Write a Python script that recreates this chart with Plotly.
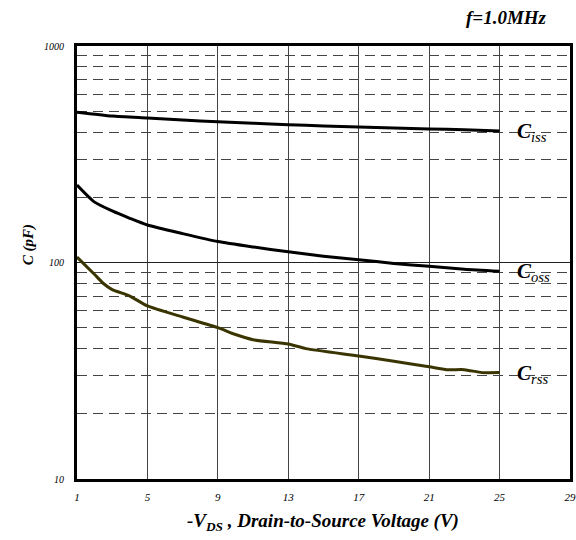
import plotly.graph_objects as go
import math

# Data
vds_iss = [1, 3, 5, 7, 9, 11, 13, 15, 17, 19, 21, 23, 25]
c_iss = [495, 475, 465, 455, 447, 440, 433, 427, 422, 418, 414, 410, 405]

vds_oss = [1, 2, 3, 4, 5, 7, 9, 11, 13, 15, 17, 19, 21, 23, 25]
c_oss = [228, 190, 173, 160, 149, 136, 125, 118, 112, 107, 103, 99, 96, 93, 91]

vds_rss = [1, 2, 2.5, 3, 4, 5, 7, 9, 10, 11, 13, 14, 17, 19, 21, 22, 23, 24, 25]
c_rss = [106, 88, 80, 75, 70, 63, 56, 50, 46.5, 44, 42, 40, 37, 35, 33, 32, 32, 31, 31]

x_ticks = [1, 5, 9, 13, 17, 21, 25, 29]
y_ticks = [10, 100, 1000]
y_minor = [20, 30, 40, 50, 60, 70, 80, 90, 200, 300, 400, 500, 600, 700, 800, 900]

series = [
    ("C", "iss", vds_iss, c_iss, "black"),
    ("C", "oss", vds_oss, c_oss, "black"),
    ("C", "rss", vds_rss, c_rss, "#3a3500"),
]

SERIF = "Liberation Serif"

fig = go.Figure()
for main, sub, xs, ys, col in series:
    fig.add_trace(go.Scatter(x=xs, y=ys, mode="lines",
                             line=dict(color=col, width=3, shape="spline", smoothing=0.6),
                             showlegend=False, hoverinfo="skip"))
    fig.add_annotation(x=25.85, y=math.log10(ys[-1]), xref="x", yref="y",
                       xanchor="left", yanchor="middle", showarrow=False, yshift=-1,
                       text=f"<b><i>{main}</i></b><sub><i>{sub}</i></sub>",
                       font=dict(family=SERIF, size=21, color="black"))

fig.add_annotation(x=0.957, y=1.065, xref="paper", yref="paper", xanchor="right", yanchor="middle",
                   showarrow=False, text="<b><i>f=1.0MHz</i></b>",
                   font=dict(family=SERIF, size=19, color="black"))

fig.add_annotation(x=0.499, y=-0.099, xref="paper", yref="paper", xanchor="center", yanchor="middle",
                   showarrow=False,
                   text="<b><i>-V</i></b><sub><b><i>DS</i></b></sub><b><i> , Drain-to-Source Voltage (V)</i></b>",
                   font=dict(family=SERIF, size=19, color="black"))

fig.add_annotation(x=-0.099, y=0.54, xref="paper", yref="paper", xanchor="center", yanchor="middle",
                   showarrow=False, textangle=-90, text="<b><i>C (pF)</i></b>",
                   font=dict(family=SERIF, size=15, color="black"))

fig.update_xaxes(range=[1, 29], tickvals=x_ticks, ticktext=[str(v) for v in x_ticks],
                 showgrid=True, gridcolor="#444444", gridwidth=1,
                 showline=True, mirror=True, linecolor="black", linewidth=3,
                 ticks="", ticklabelstandoff=6,
                 tickfont=dict(family=SERIF, size=11, style="italic", color="black"),
                 zeroline=False)

fig.update_yaxes(type="log", range=[1, 3], tickvals=y_ticks, ticktext=[str(v) for v in y_ticks],
                 showgrid=True, gridcolor="#222222", gridwidth=1,
                 minor=dict(tickvals=y_minor, showgrid=True, gridcolor="#444444",
                            gridwidth=1, griddash="10px,6px", ticks=""),
                 showline=True, mirror=True, linecolor="black", linewidth=3,
                 ticks="", ticklabelstandoff=8,
                 tickfont=dict(family=SERIF, size=10, style="italic", color="black"),
                 zeroline=False)

fig.update_layout(width=576, height=540,
                  margin=dict(l=77, r=6, t=46, b=61, autoexpand=False),
                  paper_bgcolor="white", plot_bgcolor="white")

fig.write_html("out.html", config={"displayModeBar": False},
               post_script="document.body.style.margin='0';document.body.style.overflow='hidden';")
